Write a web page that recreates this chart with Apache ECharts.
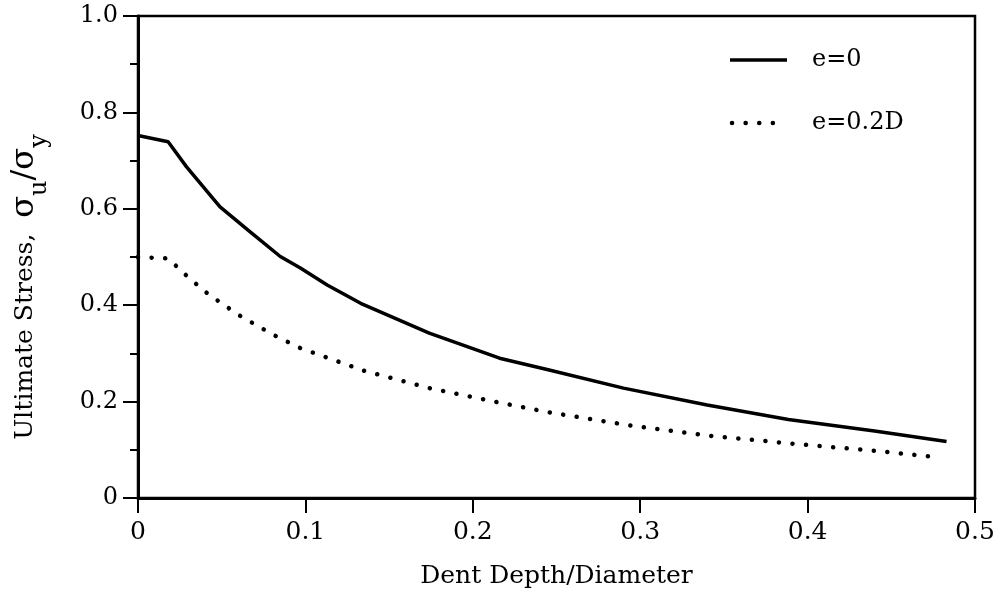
<!DOCTYPE html>
<html>
<head>
<meta charset="utf-8">
<script src="https://cdn.jsdelivr.net/npm/echarts@6/dist/echarts.min.js"></script>
<style>html,body{margin:0;padding:0;background:#fff;}#c{width:1002px;height:592px;}</style>
</head>
<body>
<div id="c"></div>
<script>
// Data
var seriesNames = ['e=0', 'e=0.2D'];
var xSolid = [0, 0.018, 0.029, 0.049, 0.067, 0.085, 0.097, 0.113, 0.133, 0.174, 0.216, 0.245, 0.29, 0.34, 0.3885, 0.44, 0.483];
var ySolid = [0.752, 0.739, 0.687, 0.604, 0.552, 0.501, 0.477, 0.442, 0.404, 0.342, 0.290, 0.266, 0.228, 0.193, 0.163, 0.139, 0.117];
var xDotted = [0, 0.018, 0.03, 0.042, 0.06, 0.08, 0.097, 0.135, 0.174, 0.213, 0.245, 0.293, 0.342, 0.39, 0.44, 0.479];
var yDotted = [0.5, 0.497, 0.458, 0.423, 0.38, 0.34, 0.311, 0.264, 0.228, 0.200, 0.178, 0.151, 0.129, 0.113, 0.098, 0.084];
var xTicks = [0, 0.1, 0.2, 0.3, 0.4, 0.5];
var yTicks = [0, 0.2, 0.4, 0.6, 0.8, 1.0];

function pairs(xs, ys) { return xs.map(function (x, i) { return [x, ys[i]]; }); }

var chart = echarts.init(document.getElementById('c'), null, { renderer: 'canvas' });
var SERIF = '"DejaVu Serif", serif';
chart.setOption({
  animation: false,
  backgroundColor: '#fff',
  grid: { left: 138, right: 27, top: 16, bottom: 94, show: true, borderColor: '#000', borderWidth: 2.5,
          containLabel: false, outerBoundsMode: 'none' },
  xAxis: {
    type: 'value', min: 0, max: 0.5, interval: 0.1,
    axisLine: { lineStyle: { color: '#000', width: 3 } },
    axisTick: { inside: false, length: 15, lineStyle: { color: '#000', width: 2 } },
    splitLine: { show: false },
    axisLabel: {
      color: '#000', fontFamily: SERIF, fontSize: 25, margin: 22,
      formatter: function (v) { var i = xTicks.indexOf(Math.round(v * 10) / 10); return i >= 0 ? String(xTicks[i]) : ''; }
    },
    name: 'Dent Depth/Diameter', nameLocation: 'middle', nameGap: 66,
    nameTextStyle: { color: '#000', fontFamily: SERIF, fontSize: 25 }
  },
  yAxis: {
    type: 'value', min: 0, max: 1.0, interval: 0.2,
    axisLine: { lineStyle: { color: '#000', width: 3 } },
    axisTick: { inside: false, length: 15, lineStyle: { color: '#000', width: 2 } },
    minorTick: { show: true, splitNumber: 2, length: 8, lineStyle: { color: '#000', width: 2 } },
    splitLine: { show: false },
    axisLabel: {
      color: '#000', fontFamily: SERIF, fontSize: 24, margin: 20,
      formatter: function (v) { var r = Math.round(v * 10) / 10; return r === 0 ? '0' : r.toFixed(1); }
    },
    name: '{a|Ultimate Stress,  }{s|σ}{b|u}{s|/σ}{b|y}',
    nameLocation: 'middle', nameGap: 86, nameRotate: 90,
    nameTextStyle: {
      color: '#000',
      padding: [0, 60, 0, 0],
      rich: {
        a: { fontFamily: SERIF, fontSize: 25, color: '#000' },
        s: { fontFamily: SERIF, fontSize: 32, color: '#000' },
        b: { fontFamily: SERIF, fontSize: 24, color: '#000', padding: [30, 0, 0, 0] }
      }
    }
  },
  series: [
    {
      name: seriesNames[0], type: 'line', data: pairs(xSolid, ySolid), symbol: 'none', smooth: false,
      lineStyle: { color: '#000', width: 3.5 }
    },
    {
      name: seriesNames[1], type: 'line', data: pairs(xDotted, yDotted), symbol: 'none', smooth: false,
      lineStyle: { color: '#000', width: 4.5, type: [0.1, 13.5], cap: 'round' }
    }
  ],
  graphic: [
    { type: 'line', shape: { x1: 730, y1: 60, x2: 787, y2: 60 }, style: { stroke: '#000', lineWidth: 3.5 } },
    { type: 'text', x: 812, y: 60, style: { text: seriesNames[0], font: '24px "DejaVu Serif", serif', fill: '#000', verticalAlign: 'middle' } },
    { type: 'line', shape: { x1: 732, y1: 123, x2: 774, y2: 123 }, style: { stroke: '#000', lineWidth: 4.5, lineDash: [0.1, 13.5], lineCap: 'round' } },
    { type: 'text', x: 812, y: 123, style: { text: seriesNames[1], font: '24px "DejaVu Serif", serif', fill: '#000', verticalAlign: 'middle' } }
  ]
});
</script>
</body>
</html>
